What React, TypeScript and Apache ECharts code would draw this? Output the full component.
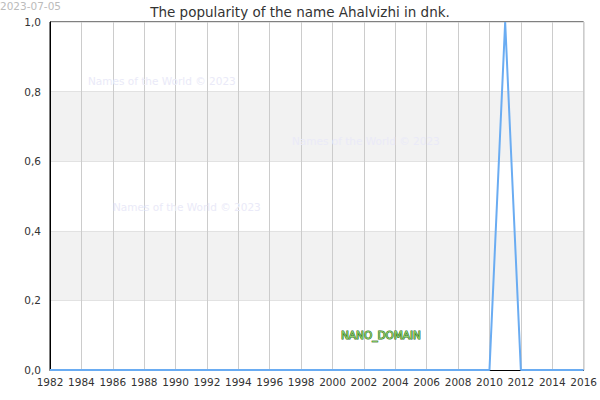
import React, { useEffect, useRef } from "react";
import * as echarts from "echarts";

const years: number[] = [];
for (let y = 1982; y <= 2016; y++) years.push(y);
const peakYear = 2011;
const peakValue = 1;
const values: number[] = years.map((y) => (y === peakYear ? peakValue : 0));

const titleText = "The popularity of the name Ahalvizhi in dnk.";
const dateText = "2023-07-05";
const watermarkText = "Names of the World © 2023";
const domainText = "NANO_DOMAIN";

export default function App() {
  const ref = useRef<HTMLDivElement>(null);
  useEffect(() => {
    if (!ref.current) return;
    const chart = echarts.init(ref.current, null, { renderer: "svg" });
    const font = "DejaVu Sans";
    chart.setOption({
      animation: false,
      backgroundColor: "#fff",
      textStyle: { fontFamily: font },
      title: {
        text: titleText,
        left: "center",
        top: 0,
        textStyle: { fontFamily: font, fontSize: 13.5, fontWeight: "normal", color: "#333" },
      },
      grid: {
        left: 50,
        right: 15,
        top: 22,
        bottom: 30,
        show: true,
        borderColor: "#000",
        borderWidth: 1,
        backgroundColor: "transparent",
      },
      xAxis: {
        type: "value",
        min: 1982,
        max: 2016,
        interval: 2,
        axisLine: { show: true, lineStyle: { color: "#000", width: 1 } },
        axisTick: { show: false },
        axisLabel: { color: "#333", fontSize: 10.5, fontFamily: font, margin: 6, formatter: (v: number) => String(v) },
        splitLine: { show: true, lineStyle: { color: "#ccc", width: 1 } },
      },
      yAxis: {
        type: "value",
        min: 0,
        max: 1,
        interval: 0.2,
        axisLine: { show: true, lineStyle: { color: "#000", width: 1 } },
        axisTick: { show: false },
        axisLabel: {
          color: "#333",
          fontSize: 10.5,
          fontFamily: font,
          margin: 9,
          formatter: (v: number) => v.toFixed(1).replace(".", ","),
        },
        splitLine: { show: true, lineStyle: { color: "#e2e2e2", width: 1 } },
        splitArea: { show: true, areaStyle: { color: ["#ffffff", "#f2f2f2"] } },
      },
      series: [
        {
          type: "line",
          data: years.map((y, i) => [y, values[i]]),
          showSymbol: false,
          symbol: "none",
          lineStyle: { color: "#6aacf2", width: 2 },
          z: 5,
        },
      ],
      graphic: [
        {
          type: "text",
          left: 0,
          top: 0,
          style: { text: dateText, fill: "#bbb", font: `10.5px ${font}` },
        },
        {
          type: "text",
          x: 88,
          y: 75,
          z: 1,
          style: { text: watermarkText, fill: "#eaeaf8", font: `10.5px ${font}` },
        },
        {
          type: "text",
          x: 292,
          y: 135,
          z: 1,
          style: { text: watermarkText, fill: "#eaeaf8", font: `10.5px ${font}` },
        },
        {
          type: "text",
          x: 113,
          y: 201,
          z: 1,
          style: { text: watermarkText, fill: "#eaeaf8", font: `10.5px ${font}` },
        },
        {
          type: "text",
          x: 341,
          y: 329,
          z: 10,
          style: {
            text: domainText,
            fill: "#8fd06a",
            stroke: "#2e6b1f",
            lineWidth: 1,
            font: `10.5px ${font}`,
          },
        },
      ],
    });
    return () => chart.dispose();
  }, []);
  return (
    <div
      ref={ref}
      style={{ position: "fixed", left: 0, top: 0, width: 600, height: 400 }}
    />
  );
}
